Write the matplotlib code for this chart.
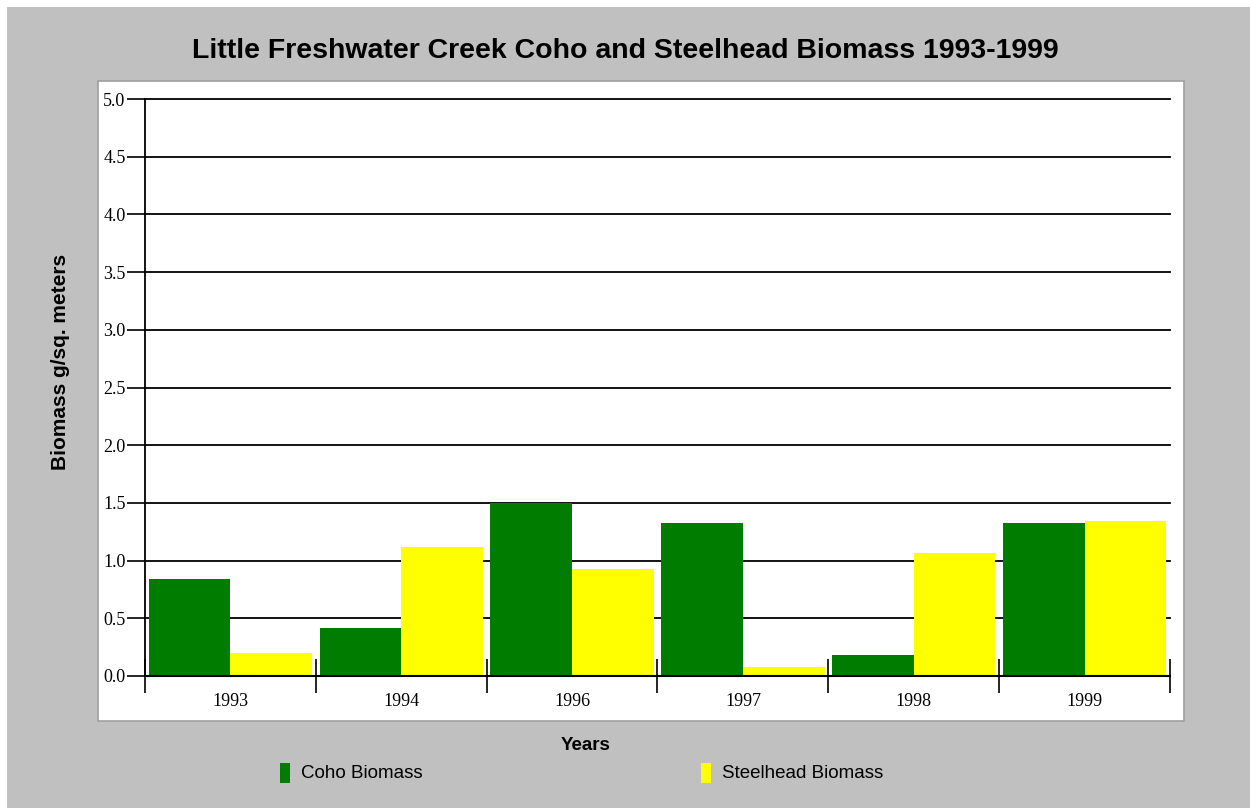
import matplotlib
matplotlib.use("Agg")
import matplotlib.pyplot as plt
import matplotlib.patches as mpatches
import numpy as np

# data
years = ["1993", "1994", "1996", "1997", "1998", "1999"]
coho = [0.84, 0.42, 1.50, 1.33, 0.18, 1.33]
steelhead = [0.20, 1.12, 0.93, 0.08, 1.07, 1.34]
yticks = [0.0, 0.5, 1.0, 1.5, 2.0, 2.5, 3.0, 3.5, 4.0, 4.5, 5.0]

W, H = 1250, 808
fig = plt.figure(figsize=(W / 100, H / 100), dpi=100, facecolor="white")

def fx(px):
    return px / W

def fy(py):
    return 1 - py / H

# gray background and white plot panel
fig.patches.append(mpatches.Rectangle((fx(7), 0), 1 - fx(7), fy(7), transform=fig.transFigure,
                                      facecolor="#C0C0C0", edgecolor="none", zorder=0))
fig.patches.append(mpatches.Rectangle((fx(97.5), fy(721)), fx(1184 - 97.5), (721 - 81) / H,
                                      transform=fig.transFigure, facecolor="white",
                                      edgecolor="#A0A0A0", linewidth=1.2, zorder=1))

ax = fig.add_axes([fx(145), fy(676), fx(1170 - 145), (676 - 99) / H])
ax.set_facecolor("none")
ax.set_zorder(2)

x = np.arange(len(years))
bw = 0.478
ax.bar(x - bw / 2, coho, width=bw, color="#007C00", edgecolor="none", zorder=3)
ax.bar(x + bw / 2, steelhead, width=bw, color="#FFFF00", edgecolor="none", zorder=3)

ax.set_xlim(-0.5, len(years) - 0.5)
ax.set_ylim(0, 5.0)
for v in yticks[1:]:
    ax.axhline(v, color="black", linewidth=1.3, zorder=1, clip_on=False)

for s in ["top", "right"]:
    ax.spines[s].set_visible(False)
ax.spines["left"].set_linewidth(1.3)
ax.spines["bottom"].set_linewidth(1.5)
ax.spines["bottom"].set_zorder(4)

tick_font = dict(fontfamily="Liberation Serif", fontsize=13)
ax.set_yticks(yticks)
ax.set_yticklabels([f"{v:.1f}" for v in yticks], **tick_font)
ax.tick_params(axis="y", length=13, width=1.2, pad=1, direction="out")

# category boundaries as major ticks, labels centred as minor ticks
ax.set_xticks(np.arange(len(years) + 1) - 0.5)
ax.set_xticklabels([])
ax.tick_params(axis="x", which="major", length=24, width=1.2, direction="inout")
ax.set_xticks(x, minor=True)
ax.set_xticklabels(years, minor=True, **tick_font)
ax.tick_params(axis="x", which="minor", length=0, pad=12)

fig.text(0.5, fy(51), "Little Freshwater Creek Coho and Steelhead Biomass 1993-1999",
         ha="center", va="center", fontsize=20.5, fontweight="bold", fontfamily="Liberation Sans")
fig.text(fx(586), fy(746), "Years", ha="center", va="center", fontsize=13.5,
         fontweight="bold", fontfamily="Liberation Sans")
fig.text(fx(60), fy(362), "Biomass g/sq. meters", ha="center", va="center", rotation=90,
         fontsize=15, fontweight="bold", fontfamily="Liberation Sans")

# legend
for px, col, lab in [(280, "#007C00", "Coho Biomass"), (701, "#FFFF00", "Steelhead Biomass")]:
    fig.patches.append(mpatches.Rectangle((fx(px), fy(783)), fx(10), 20 / H, transform=fig.transFigure,
                                          facecolor=col, edgecolor="none", zorder=2))
    fig.text(fx(px + 21), fy(774), lab, ha="left", va="center", fontsize=13.5,
             fontfamily="Liberation Sans")

fig.savefig("out.png", dpi=100, facecolor=fig.get_facecolor())
